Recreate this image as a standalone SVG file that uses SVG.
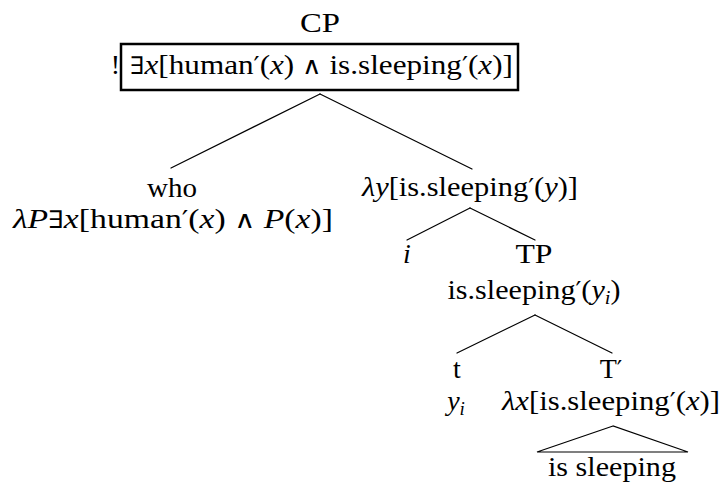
<svg xmlns="http://www.w3.org/2000/svg" width="726" height="484" viewBox="0 0 726 484">
  <style>
    text { font-family: "Liberation Serif", serif; font-size: 28px; fill: #000; text-anchor: middle; }
    .m { font-style: italic; }
    .s { font-family: "DejaVu Serif", serif; font-size: 24px; }
    .p { font-family: "DejaVu Serif", serif; font-size: 24px; }
    .sub { font-size: 19px; font-style: italic; }
    .edge { stroke: #000; stroke-width: 1.2; fill: none; stroke-linecap: round; }
    .box { stroke: #000; stroke-width: 2.5; fill: #fff; }
  </style>
  <rect width="726" height="484" fill="#fff"/>

  <!-- tree edges -->
  <g id="edges">
    <line class="edge" x1="320" y1="94" x2="171" y2="168"/>
    <line class="edge" x1="320" y1="94" x2="472" y2="169"/>
    <line class="edge" x1="470" y1="208" x2="407" y2="240"/>
    <line class="edge" x1="470" y1="208" x2="535" y2="240"/>
    <line class="edge" x1="535" y1="315" x2="457" y2="353"/>
    <line class="edge" x1="535" y1="315" x2="612" y2="353"/>
    <polygon class="edge" points="613,426 537,452 688,452"/>
  </g>

  <!-- root: CP -->
  <g id="cp">
    <text x="320" y="32" textLength="40" lengthAdjust="spacingAndGlyphs">CP</text>
    <text x="115.5" y="74">!</text>
    <rect class="box" x="121" y="44" width="397" height="46"/>
    <text x="321.5" y="74" textLength="383" lengthAdjust="spacingAndGlyphs"><tspan class="s">∃</tspan><tspan class="m">x</tspan>[human<tspan class="p">′</tspan>(<tspan class="m">x</tspan>) <tspan class="s">∧</tspan> is.sleeping<tspan class="p">′</tspan>(<tspan class="m">x</tspan>)]</text>
  </g>

  <!-- who -->
  <g id="who">
    <text x="172" y="197" textLength="50" lengthAdjust="spacingAndGlyphs">who</text>
    <text x="173" y="228" textLength="320" lengthAdjust="spacingAndGlyphs"><tspan class="m">λP</tspan><tspan class="s">∃</tspan><tspan class="m">x</tspan>[human<tspan class="p">′</tspan>(<tspan class="m">x</tspan>) <tspan class="s">∧</tspan> <tspan class="m">P</tspan>(<tspan class="m">x</tspan>)]</text>
  </g>

  <!-- lambda abstraction over y -->
  <g id="lambda-y">
    <text x="470" y="196" textLength="216" lengthAdjust="spacingAndGlyphs"><tspan class="m">λy</tspan>[is.sleeping<tspan class="p">′</tspan>(<tspan class="m">y</tspan>)]</text>
  </g>

  <!-- index i -->
  <g id="index-i">
    <text class="m" x="407" y="263">i</text>
  </g>

  <!-- TP -->
  <g id="tp">
    <text x="534" y="263" textLength="37" lengthAdjust="spacingAndGlyphs">TP</text>
    <text x="534" y="299" textLength="173" lengthAdjust="spacingAndGlyphs">is.sleeping<tspan class="p">′</tspan>(<tspan class="m">y</tspan><tspan class="sub" dy="5">i</tspan><tspan dy="-5">)</tspan></text>
  </g>

  <!-- trace t -->
  <g id="trace">
    <text x="457" y="378">t</text>
    <text x="456" y="410"><tspan class="m">y</tspan><tspan class="sub" dy="5">i</tspan></text>
  </g>

  <!-- T-bar -->
  <g id="tbar">
    <text x="611" y="378">T<tspan class="p">′</tspan></text>
    <text x="611" y="410" textLength="218" lengthAdjust="spacingAndGlyphs"><tspan class="m">λx</tspan>[is.sleeping<tspan class="p">′</tspan>(<tspan class="m">x</tspan>)]</text>
  </g>

  <!-- terminal under triangle -->
  <g id="vp">
    <text x="612" y="476" textLength="128" lengthAdjust="spacingAndGlyphs">is sleeping</text>
  </g>
</svg>
